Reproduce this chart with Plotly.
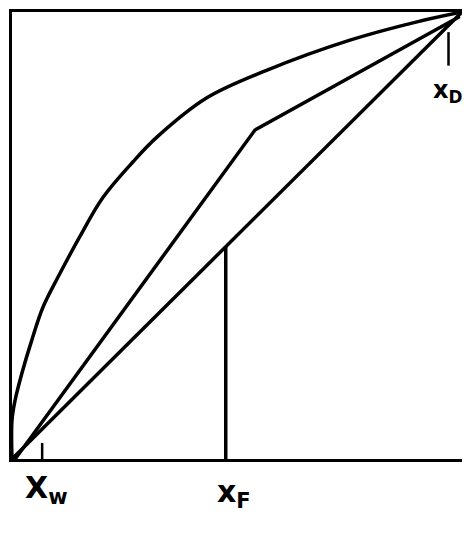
import plotly.graph_objects as go

# equilibrium curve
eq_x = [0.0, 0.0, 0.007, 0.022, 0.044, 0.069, 0.107, 0.151, 0.202, 0.269, 0.322, 0.433, 0.567, 0.751, 0.90, 1.0]
eq_y = [0.0, 0.087, 0.132, 0.192, 0.266, 0.340, 0.416, 0.498, 0.585, 0.665, 0.720, 0.808, 0.870, 0.937, 0.978, 1.0]

# 45 degree line
diag_x = [0.0, 1.0]
diag_y = [0.0, 1.0]

# operating lines (stripping + rectifying), meeting at the kink
op_x = [0.007, 0.54, 0.995]
op_y = [0.0, 0.736, 0.99]

# compositions
x_w = 0.067
x_f = 0.475
x_d = 0.97

line = dict(color="black", width=3.5)

fig = go.Figure()
fig.add_trace(go.Scatter(x=eq_x, y=eq_y, mode="lines",
                         line=dict(color="black", width=3.5, shape="spline", smoothing=1.0)))
fig.add_trace(go.Scatter(x=diag_x, y=diag_y, mode="lines", line=line))
fig.add_trace(go.Scatter(x=op_x, y=op_y, mode="lines", line=line))
# q-line at x_f, up to the diagonal
fig.add_trace(go.Scatter(x=[x_f, x_f], y=[0, x_f], mode="lines", line=line))
# small marks at x_w and x_d
fig.add_trace(go.Scatter(x=[x_w, x_w], y=[0, 0.036], mode="lines", line=dict(color="black", width=2.5)))
fig.add_trace(go.Scatter(x=[x_d, x_d], y=[0.88, 0.955], mode="lines", line=dict(color="black", width=2.5)))

lab_font = dict(family="DejaVu Sans", size=30, color="black")
fig.add_annotation(x=x_w, y=0, yshift=-30, xshift=4, text="<b>X<sub>w</sub></b>", showarrow=False, font=lab_font)
fig.add_annotation(x=x_f, y=0, yshift=-34, xshift=8, text="<b>x<sub>F</sub></b>", showarrow=False, font=lab_font)
fig.add_annotation(x=x_d, y=0.88, yshift=-26, xshift=-1, text="<b>x<sub>D</sub></b>", showarrow=False,
                   font=dict(family="DejaVu Sans", size=24, color="black"))

fig.update_xaxes(range=[0, 1], showgrid=False, zeroline=False, showticklabels=False, ticks="",
                 showline=True, linecolor="black", linewidth=3, mirror=True)
fig.update_yaxes(range=[0, 1], showgrid=False, zeroline=False, showticklabels=False, ticks="",
                 showline=True, linecolor="black", linewidth=3)

fig.update_layout(width=464, height=534, margin=dict(l=12, r=2, t=12, b=75),
                  plot_bgcolor="white", paper_bgcolor="white", showlegend=False)

fig.write_html("out.html", config={"displayModeBar": False},
               post_script="document.body.style.margin='0';")
